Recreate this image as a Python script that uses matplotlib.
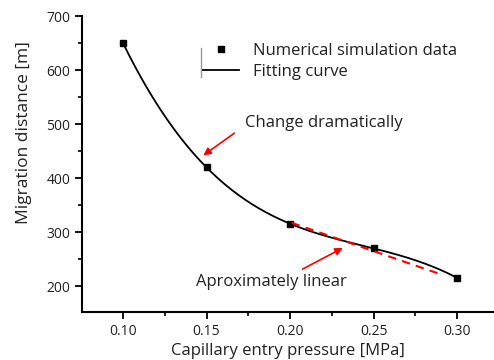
import numpy as np
import matplotlib.pyplot as plt
from matplotlib.lines import Line2D
from matplotlib.ticker import MultipleLocator, FormatStrFormatter

plt.rcParams['font.family'] = ['Open Sans', 'DejaVu Sans']

pressure = [0.10, 0.15, 0.20, 0.25, 0.30]
distance = [650, 420, 315, 270, 215]
linear_x = [0.201, 0.289]
linear_y = [317, 223]

fig = plt.figure(figsize=(4.94, 3.6), dpi=100)
ax = fig.add_axes([82 / 494, 48 / 360, 412 / 494, 296 / 360])

# cubic fit through the simulation points
coef = np.polyfit(pressure, distance, 3)
xs = np.linspace(0.10, 0.30, 200)
ax.plot(xs, np.polyval(coef, xs), color='black', lw=1.3, label='Fitting curve')
ax.plot(pressure, distance, 's', color='black', ms=5, ls='none',
        label='Numerical simulation data')
ax.plot(linear_x, linear_y, '--', color='red', lw=1.5, dashes=(4, 3))

ax.annotate('', xy=(0.1467, 439), xytext=(0.168, 486),
            arrowprops=dict(arrowstyle='-|>', color='red', lw=1.2, mutation_scale=11))
ax.text(0.173, 502, 'Change dramatically', fontsize=12, va='center', color='#222222')
ax.annotate('', xy=(0.233, 273), xytext=(0.206, 229),
            arrowprops=dict(arrowstyle='-|>', color='red', lw=1.2, mutation_scale=11))
ax.text(0.1437, 207, 'Aproximately linear', fontsize=12, va='center', color='#222222')

ax.set_xlim(0.0755, 0.322)
ax.set_ylim(152, 700)
ax.xaxis.set_major_locator(MultipleLocator(0.05))
ax.xaxis.set_minor_locator(MultipleLocator(0.025))
ax.xaxis.set_major_formatter(FormatStrFormatter('%.2f'))
ax.yaxis.set_major_locator(MultipleLocator(100))
ax.yaxis.set_minor_locator(MultipleLocator(50))
ax.set_yticks([200, 300, 400, 500, 600, 700])
ax.spines['top'].set_visible(False)
ax.spines['right'].set_visible(False)
ax.spines['left'].set_linewidth(1.5)
ax.spines['bottom'].set_linewidth(1.5)
ax.tick_params(which='major', direction='out', length=5, width=1.3, labelsize=10,
               colors='black', labelcolor='#222222')
ax.tick_params(which='minor', direction='out', length=3, width=1.2)
ax.set_xlabel('Capillary entry pressure [MPa]', fontsize=12, color='#222222', labelpad=3)
ax.set_ylabel('Migration distance [m]', fontsize=12.5, color='#222222')
ax.yaxis.set_label_coords(-0.122, 0.605)

h = ax.get_legend_handles_labels()[0]
ax.legend([h[1], h[0]], ['Numerical simulation data', 'Fitting curve'],
          loc='upper left', bbox_to_anchor=(106 / 412, 1 - 12 / 296), frameon=False,
          fontsize=12, handlelength=2.15, handletextpad=0.85, labelspacing=0.3,
          labelcolor='#222222')
ax.add_line(Line2D([119 / 412, 119 / 412], [1 - 32 / 296, 1 - 61 / 296],
                   transform=ax.transAxes, color='#999999', lw=1))

fig.savefig('out.png', dpi=100)
